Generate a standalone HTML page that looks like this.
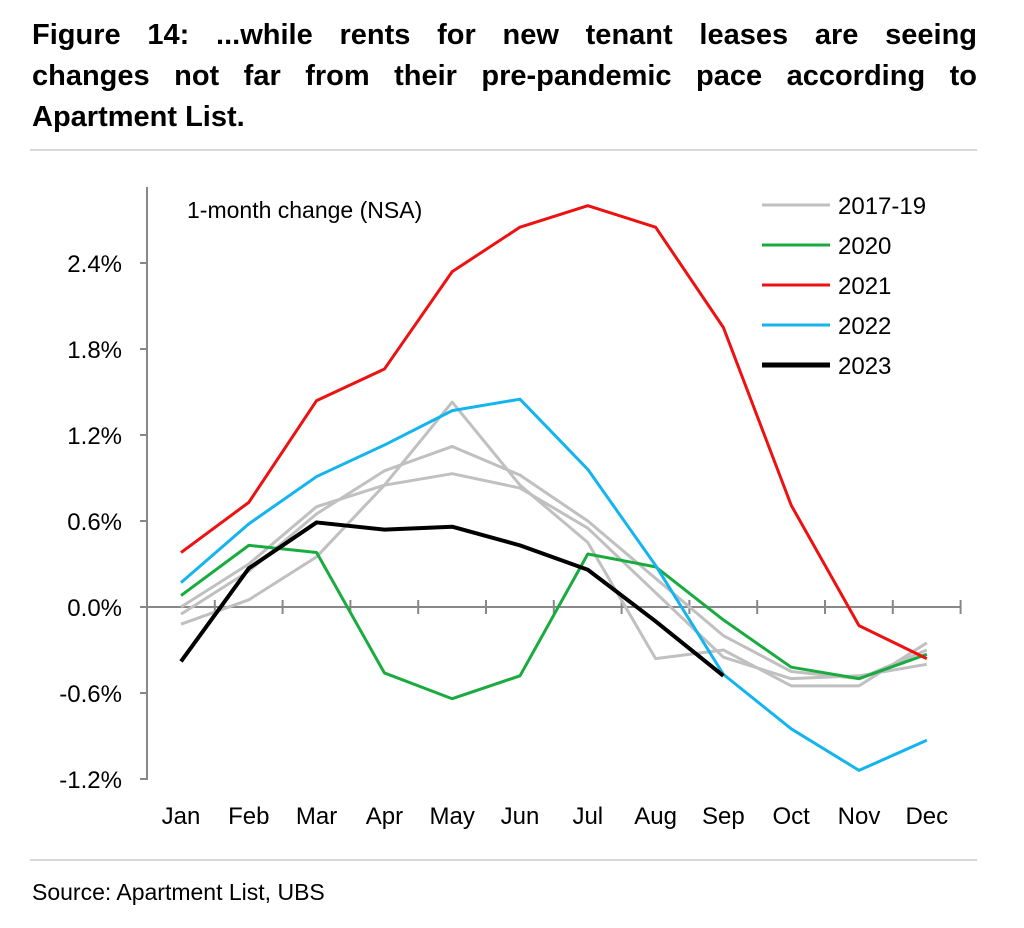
<!DOCTYPE html>
<html><head><meta charset="utf-8">
<style>
body{margin:0;background:#fff;width:1024px;height:928px;overflow:hidden;font-family:"Liberation Sans",sans-serif;}
#title{position:absolute;left:32px;top:15px;width:945px;font-weight:bold;font-size:29px;line-height:41px;color:#000;}
#title .j{text-align:justify;text-align-last:justify;white-space:nowrap;}
svg{position:absolute;left:0;top:0;}
</style></head><body>
<div id="title"><div class="j">Figure 14: ...while rents for new tenant leases are seeing</div><div class="j">changes not far from their pre-pandemic pace according to</div><div>Apartment List.</div></div>
<svg id="c" width="1024" height="928"></svg>
<script>
const months=["Jan","Feb","Mar","Apr","May","Jun","Jul","Aug","Sep","Oct","Nov","Dec"];
const yTicks=[-1.2,-0.6,0,0.6,1.2,1.8,2.4];
const gray1=[-0.12,0.05,0.35,0.85,1.43,0.85,0.45,-0.36,-0.30,-0.55,-0.55,-0.25];
const gray2=[-0.05,0.25,0.65,0.95,1.12,0.92,0.60,0.20,-0.20,-0.45,-0.50,-0.30];
const gray3=[0.00,0.30,0.70,0.85,0.93,0.83,0.55,0.10,-0.35,-0.50,-0.48,-0.40];
const s2020=[0.08,0.43,0.38,-0.46,-0.64,-0.48,0.37,0.28,-0.09,-0.42,-0.50,-0.33];
const s2021=[0.38,0.73,1.44,1.66,2.34,2.65,2.80,2.65,1.95,0.71,-0.13,-0.36];
const s2022=[0.17,0.58,0.91,1.13,1.37,1.45,0.96,0.29,-0.47,-0.85,-1.14,-0.93];
const s2023=[-0.38,0.27,0.59,0.54,0.56,0.43,0.26,-0.10,-0.48];
const NS="http://www.w3.org/2000/svg";
const svg=document.getElementById('c');
const X=i=>181+i*67.8;
const Y=v=>607-v*143.33;
function el(t,a,p){const e=document.createElementNS(NS,t);for(const k in a)e.setAttribute(k,a[k]);(p||svg).appendChild(e);return e;}
let e;
e=el('line',{x1:30,x2:977,y1:150,y2:150,stroke:'#ccc','stroke-width':1.5});


e=el('line',{x1:30,x2:977,y1:860,y2:860,stroke:'#ccc','stroke-width':1.5});


e=el('line',{x1:147,x2:147,y1:187,y2:780,stroke:'#888','stroke-width':2});


yTicks.forEach(v=>{
  e=el('line',{x1:140,x2:147,y1:Y(v),y2:Y(v),stroke:'#888','stroke-width':2});
  
  
  e=el('text',{x:122,y:Y(v)+9,'text-anchor':'end','font-size':24,fill:'#000'});
  e.textContent=v.toFixed(1)+'%';
  
  
});
e=el('line',{x1:147,x2:961,y1:Y(0),y2:Y(0),stroke:'#888','stroke-width':2});


for(let i=0;i<=12;i++){
  const x=147+i*67.8;
  e=el('line',{x1:x,x2:x,y1:Y(0)-7,y2:Y(0)+7,stroke:'#888','stroke-width':2});
  
  
}
months.forEach((m,i)=>{
  e=el('text',{x:X(i),y:824,'text-anchor':'middle','font-size':24,fill:'#000'});
  e.textContent=m;
  
  
});
e=el('text',{x:187,y:218,'font-size':23,fill:'#000'});
e.textContent='1-month change (NSA)';


function line(arr,col,w,name){
  const p=el('polyline',{points:arr.map((v,i)=>X(i)+','+Y(v)).join(' '),fill:'none',stroke:col,'stroke-width':w,'stroke-linejoin':'round'});
  
  
}
line(gray1,'#c0c0c0',3,'series-2017');
line(gray2,'#c0c0c0',3,'series-2018');
line(gray3,'#c0c0c0',3,'series-2019');
line(s2020,'#1aab40',3,'series-2020');
line(s2021,'#ee1111',3,'series-2021');
line(s2022,'#14b4ee',3,'series-2022');
line(s2023,'#000',4,'series-2023');
const legend=[["2017-19","#c0c0c0",3],["2020","#1aab40",3],["2021","#ee1111",3],["2022","#14b4ee",3],["2023","#000",5]];
legend.forEach((l,i)=>{
  const y=205+i*40;
  const g=el('g',{});
  
  
  el('line',{x1:762,x2:830,y1:y,y2:y,stroke:l[1],'stroke-width':l[2]},g);
  const t=el('text',{x:838,y:y+9,'font-size':24,fill:'#000'},g);
  t.textContent=l[0];
});
e=el('text',{x:32,y:900,'font-size':23,fill:'#000'});
e.textContent='Source: Apartment List, UBS';


</script>
</body></html>
